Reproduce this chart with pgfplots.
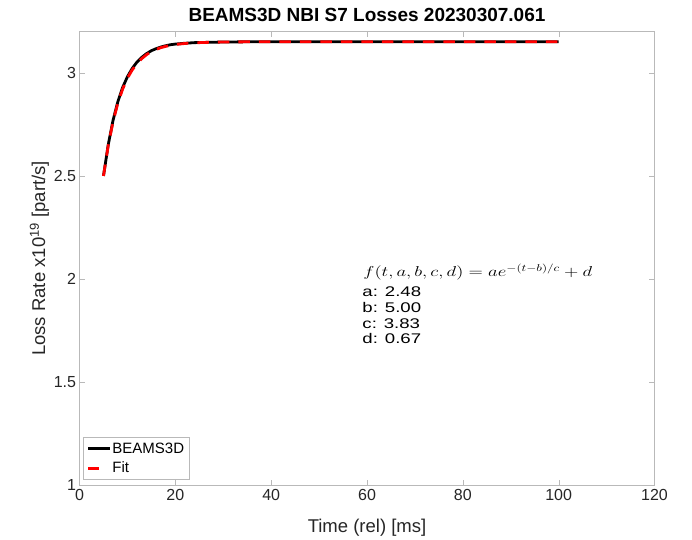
\documentclass[border=0pt]{standalone}
\usepackage{pgfplots}
\pgfplotsset{compat=1.18}
\usepackage{fontspec}
\setmainfont{Liberation Sans}
\pgfplotsset{
  longleg/.style={legend image code/.code={\draw[##1] (0bp,0bp) -- (21.5bp,0bp);}},
  shortleg/.style={legend image code/.code={\draw[##1, solid] (0bp,0bp) -- (10.5bp,0bp); \path (21.5bp,0bp) coordinate (legend end);}},
}
\begin{document}
\begin{tikzpicture}
\begin{axis}[
  scale only axis,
  width=575bp, height=454bp,
  xmin=0, xmax=120, ymin=1, ymax=3.2,
  xtick={0,20,...,120},
  ytick={1,1.5,2,2.5,3},
  yticklabels={1,1.5,2,2.5,3},
  scaled y ticks=false,
  /pgf/number format/assume math mode=true,
  tick align=inside,
  major tick length=5.5bp,
  axis line style={gray!55},
  tick style={gray!55},
  every tick label/.style={font=\fontsize{16bp}{18bp}\selectfont, text=black!85},
  xlabel={Time (rel) [ms]},
  ylabel={Loss Rate x10\textsuperscript{19} [part/s]},
  xlabel style={font=\fontsize{18.5bp}{20bp}\selectfont, at={(axis description cs:0.5,0)}, anchor=base, yshift=-47bp, text=black!85},
  ylabel style={font=\fontsize{18.5bp}{20bp}\selectfont, at={(axis description cs:0,0.5)}, anchor=base, yshift=34.5bp, text=black!85},
  title={\textbf{BEAMS3D NBI S7 Losses 20230307.061}},
  title style={font=\fontsize{19bp}{21bp}\selectfont, at={(axis description cs:0.5,1)}, anchor=base, yshift=4.5bp},
  legend style={font=\fontsize{15bp}{17bp}\selectfont, draw=gray!55, fill=white,
    inner xsep=3.5bp, inner ysep=3.5bp, nodes={inner sep=1.5bp}, row sep=4.5bp,
    at={(axis description cs:0.006,0.013)}, anchor=south west},
  legend cell align=left,
  clip=false,
]
\addplot[black, line width=2.8bp, longleg] coordinates {
(5,2.500) (6,2.652) (7,2.770) (8,2.860) (9,2.929) (10,2.981) (11,3.021) (12,3.052) (13,3.075) (14,3.093) (15,3.107) (16,3.117) (17,3.125) (18,3.131) (19,3.136) (20,3.139) (22,3.143) (24,3.146) (26,3.147) (30,3.149) (35,3.150) (40,3.150) (50,3.150) (60,3.150) (70,3.150) (80,3.150) (90,3.150) (100,3.150)
};
\addlegendentry{BEAMS3D}
\addplot[red, line width=2.8bp, dash pattern=on 11.5bp off 9bp, shortleg] coordinates {
(5,2.500) (6,2.649) (7,2.764) (8,2.853) (9,2.921) (10,2.974) (11,3.014) (12,3.045) (13,3.069) (14,3.088) (15,3.102) (16,3.113) (17,3.122) (18,3.128) (19,3.133) (20,3.137) (22,3.142) (24,3.145) (26,3.147) (30,3.149) (35,3.150) (40,3.150) (50,3.150) (60,3.150) (70,3.150) (80,3.150) (90,3.150) (100,3.150)
};
\addlegendentry{Fit}
\node[anchor=base west, inner sep=0, xscale=1.31, font=\fontsize{14bp}{16bp}\selectfont] at (axis cs:59.2,2.0116) {$f(t,a,b,c,d) = ae^{-(t-b)/c}+d$};
\node[anchor=base west, inner sep=0, xscale=1.33, font=\fontsize{14bp}{16bp}\selectfont] at (axis cs:59,1.916) {a: 2.48};
\node[anchor=base west, inner sep=0, xscale=1.33, font=\fontsize{14bp}{16bp}\selectfont] at (axis cs:59,1.839) {b: 5.00};
\node[anchor=base west, inner sep=0, xscale=1.33, font=\fontsize{14bp}{16bp}\selectfont] at (axis cs:59,1.763) {c: 3.83};
\node[anchor=base west, inner sep=0, xscale=1.33, font=\fontsize{14bp}{16bp}\selectfont] at (axis cs:59,1.686) {d: 0.67};
\path (rel axis cs:-0.1383,-0.1079) (rel axis cs:1.0652,1.0694);
\end{axis}
\end{tikzpicture}
\end{document}
